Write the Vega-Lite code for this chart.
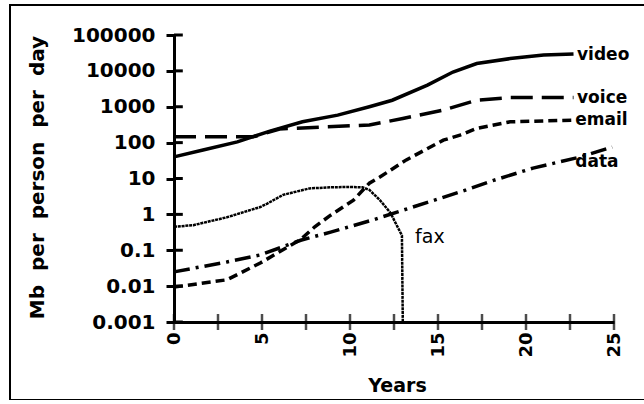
{
  "$schema": "https://vega.github.io/schema/vega-lite/v6.json",
  "autosize": "none",
  "padding": {"left": 10, "top": 5, "right": 0, "bottom": 0},
  "width": 640,
  "height": 395,
  "background": "white",
  "config": {
    "view": {"stroke": "black", "strokeWidth": 2},
    "axis": {"grid": false}
  },
  "datasets": {
    "lines": [
      {"s": "video", "t": 0, "v": 40}, {"s": "video", "t": 1.65, "v": 62}, {"s": "video", "t": 3.6, "v": 105}, {"s": "video", "t": 5.45, "v": 210}, {"s": "video", "t": 7.3, "v": 380}, {"s": "video", "t": 9.3, "v": 585}, {"s": "video", "t": 11.1, "v": 1000}, {"s": "video", "t": 12.4, "v": 1520}, {"s": "video", "t": 14.4, "v": 4000}, {"s": "video", "t": 15.85, "v": 9300}, {"s": "video", "t": 17.2, "v": 16000}, {"s": "video", "t": 19.1, "v": 22000}, {"s": "video", "t": 21.0, "v": 27500}, {"s": "video", "t": 22.7, "v": 29500},
      {"s": "voice", "t": 0, "v": 145}, {"s": "voice", "t": 4.5, "v": 145}, {"s": "voice", "t": 6.0, "v": 240}, {"s": "voice", "t": 8.3, "v": 270}, {"s": "voice", "t": 11.1, "v": 310}, {"s": "voice", "t": 13.0, "v": 470}, {"s": "voice", "t": 15.3, "v": 810}, {"s": "voice", "t": 17.2, "v": 1520}, {"s": "voice", "t": 19.1, "v": 1800}, {"s": "voice", "t": 22.7, "v": 1800},
      {"s": "email", "t": 0, "v": 0.0094}, {"s": "email", "t": 3.0, "v": 0.015}, {"s": "email", "t": 4.9, "v": 0.044}, {"s": "email", "t": 7.2, "v": 0.2}, {"s": "email", "t": 8.0, "v": 0.45}, {"s": "email", "t": 8.9, "v": 0.95}, {"s": "email", "t": 10.2, "v": 2.5}, {"s": "email", "t": 11.1, "v": 7.4}, {"s": "email", "t": 11.7, "v": 11}, {"s": "email", "t": 13.2, "v": 33}, {"s": "email", "t": 15.3, "v": 117}, {"s": "email", "t": 16.25, "v": 162}, {"s": "email", "t": 17.2, "v": 250}, {"s": "email", "t": 19.1, "v": 380}, {"s": "email", "t": 22.7, "v": 425},
      {"s": "data", "t": 0, "v": 0.025}, {"s": "data", "t": 3.0, "v": 0.047}, {"s": "data", "t": 4.9, "v": 0.074}, {"s": "data", "t": 7.2, "v": 0.19}, {"s": "data", "t": 8.9, "v": 0.32}, {"s": "data", "t": 11.3, "v": 0.7}, {"s": "data", "t": 13.0, "v": 1.3}, {"s": "data", "t": 16.6, "v": 4.8}, {"s": "data", "t": 18.2, "v": 9}, {"s": "data", "t": 20.4, "v": 19.5}, {"s": "data", "t": 21.9, "v": 29}, {"s": "data", "t": 23.1, "v": 40}, {"s": "data", "t": 24.9, "v": 75},
      {"s": "fax", "t": 0, "v": 0.45}, {"s": "fax", "t": 1.1, "v": 0.5}, {"s": "fax", "t": 3.0, "v": 0.83}, {"s": "fax", "t": 4.9, "v": 1.6}, {"s": "fax", "t": 5.3, "v": 2.0}, {"s": "fax", "t": 6.2, "v": 3.5}, {"s": "fax", "t": 7.7, "v": 5.3}, {"s": "fax", "t": 9.0, "v": 5.7}, {"s": "fax", "t": 10.0, "v": 5.8}, {"s": "fax", "t": 10.7, "v": 5.7}, {"s": "fax", "t": 11.1, "v": 4.8}, {"s": "fax", "t": 11.7, "v": 2.5}, {"s": "fax", "t": 12.3, "v": 1.1}, {"s": "fax", "t": 12.8, "v": 0.36}, {"s": "fax", "t": 12.95, "v": 0.26}, {"s": "fax", "t": 13.0, "v": 0.001}
    ],
    "labels": [
      {"name": "video", "t": 22.9, "v": 28000},
      {"name": "voice", "t": 22.9, "v": 1750},
      {"name": "email", "t": 22.8, "v": 420},
      {"name": "data", "t": 22.8, "v": 29}
    ],
    "fax": [{"name": "fax", "t": 13.7, "v": 0.23}],
    "ticks": [
      {"axis": "y", "t": 0, "v": 0.001}, {"axis": "y", "t": 0, "v": 0.01}, {"axis": "y", "t": 0, "v": 0.1}, {"axis": "y", "t": 0, "v": 1}, {"axis": "y", "t": 0, "v": 10}, {"axis": "y", "t": 0, "v": 100}, {"axis": "y", "t": 0, "v": 1000}, {"axis": "y", "t": 0, "v": 10000}, {"axis": "y", "t": 0, "v": 100000},
      {"axis": "x", "t": 0, "v": 0.001}, {"axis": "x", "t": 2.5, "v": 0.001}, {"axis": "x", "t": 5, "v": 0.001}, {"axis": "x", "t": 7.5, "v": 0.001}, {"axis": "x", "t": 10, "v": 0.001}, {"axis": "x", "t": 12.5, "v": 0.001}, {"axis": "x", "t": 15, "v": 0.001}, {"axis": "x", "t": 17.5, "v": 0.001}, {"axis": "x", "t": 20, "v": 0.001}, {"axis": "x", "t": 22.5, "v": 0.001}, {"axis": "x", "t": 25, "v": 0.001}
    ]
  },
  "encoding": {
    "x": {
      "field": "t", "type": "quantitative",
      "scale": {"domain": [0, 25], "range": [164, 604], "nice": false, "zero": false},
      "axis": {
        "orient": "bottom", "offset": -78, "values": [0, 5, 10, 15, 20, 25],
        "ticks": false, "tickSize": 0, "domainColor": "black", "domainWidth": 3,
        "labelAngle": -90, "labelPadding": 10, "labelFont": "DejaVu Sans", "labelFontWeight": "bold", "labelFontSize": 18, "labelColor": "black",
        "title": "Years", "titleFont": "DejaVu Sans", "titleFontWeight": "bold", "titleFontSize": 19, "titleColor": "black",
        "titleX": 387, "titleY": 63, "titleAlign": "center", "titleBaseline": "middle"
      }
    },
    "y": {
      "field": "v", "type": "quantitative",
      "scale": {"type": "log", "domain": [0.001, 100000], "range": [317, 30], "nice": false},
      "axis": {
        "orient": "left", "offset": -164, "values": [0.001, 0.01, 0.1, 1, 10, 100, 1000, 10000, 100000], "format": "~g",
        "ticks": true, "tickSize": 8, "tickWidth": 3, "tickColor": "black", "tickOpacity": 1, "domainColor": "black", "domainWidth": 3,
        "labelPadding": 11, "labelFont": "DejaVu Sans", "labelFontWeight": "bold", "labelFontSize": 20, "labelColor": "black",
        "title": "Mb\u00a0\u00a0per\u00a0\u00a0person\u00a0\u00a0per\u00a0\u00a0day", "titleFont": "DejaVu Sans", "titleFontWeight": "bold", "titleFontSize": 20, "titleColor": "black",
        "titleX": -137, "titleY": 172, "titleAngle": -90, "titleAlign": "center", "titleBaseline": "middle"
      }
    }
  },
  "layer": [
    {"data": {"name": "lines"}, "transform": [{"filter": "datum.s === 'video'"}], "mark": {"type": "line", "color": "black", "strokeWidth": 3.5}},
    {"data": {"name": "lines"}, "transform": [{"filter": "datum.s === 'voice'"}], "mark": {"type": "line", "color": "black", "strokeWidth": 3.5, "strokeDash": [22, 9]}},
    {"data": {"name": "lines"}, "transform": [{"filter": "datum.s === 'email'"}], "mark": {"type": "line", "color": "black", "strokeWidth": 3.5, "strokeDash": [9, 5]}},
    {"data": {"name": "lines"}, "transform": [{"filter": "datum.s === 'data'"}], "mark": {"type": "line", "color": "black", "strokeWidth": 3.5, "strokeDash": [16, 6, 3, 6]}},
    {"data": {"name": "lines"}, "transform": [{"filter": "datum.s === 'fax'"}], "mark": {"type": "line", "color": "black", "strokeWidth": 2.5, "strokeDash": [3, 0.8]}},
    {"data": {"name": "ticks"}, "transform": [{"filter": "datum.axis === 'y'"}], "mark": {"type": "rule", "color": "black", "strokeWidth": 3}, "encoding": {"x2": {"datum": 0.5}}},
    {"data": {"name": "ticks"}, "transform": [{"filter": "datum.axis === 'x'"}], "mark": {"type": "tick", "orient": "vertical", "color": "black", "size": 16, "thickness": 2.5}},
    {"data": {"name": "labels"}, "mark": {"type": "text", "align": "left", "baseline": "middle", "font": "DejaVu Sans", "fontWeight": "bold", "fontSize": 17, "color": "black"}, "encoding": {"text": {"field": "name"}}},
    {"data": {"name": "fax"}, "mark": {"type": "text", "align": "left", "baseline": "middle", "font": "DejaVu Sans", "fontSize": 19, "color": "black"}, "encoding": {"text": {"field": "name"}}}
  ]
}
